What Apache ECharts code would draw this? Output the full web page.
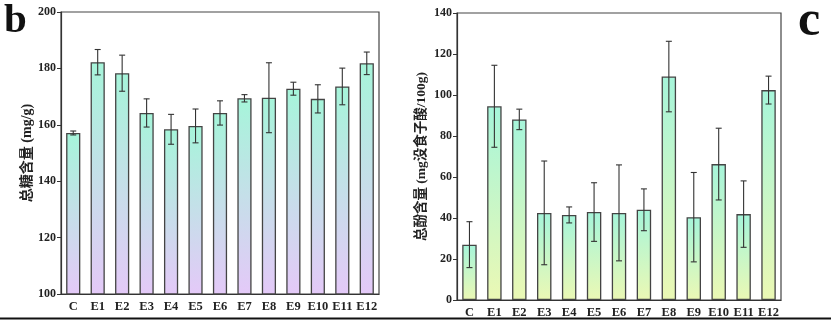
<!DOCTYPE html>
<html>
<head>
<meta charset="utf-8">
<script src="https://cdn.jsdelivr.net/npm/echarts@6/dist/echarts.min.js"></script>
<style>
  html, body { margin: 0; padding: 0; background: #fff; }
  #chart { width: 831px; height: 322px; }
</style>
</head>
<body>
<div id="chart"></div>
<script>
// Treatments shared by both panels
const categories = ['C', 'E1', 'E2', 'E3', 'E4', 'E5', 'E6', 'E7', 'E8', 'E9', 'E10', 'E11', 'E12'];

// Panel b: total sugar (mg/g), mean and standard deviation
const sugarMean = [157.1, 182.2, 178.3, 164.2, 158.4, 159.6, 164.2, 169.4, 169.6, 172.8, 169.2, 173.6, 181.8];
const sugarSd   = [0.7, 4.5, 6.4, 5.0, 5.3, 6.0, 4.3, 1.3, 12.4, 2.3, 5.0, 6.5, 4.0];
const sugarTicks = { min: 100, max: 200, interval: 20 };

// Panel c: total phenols (mg gallic acid / 100 g), mean and standard deviation
const phenolMean = [27.0, 94.5, 88.1, 42.5, 41.5, 42.9, 42.5, 44.0, 109.0, 40.4, 66.3, 41.9, 102.4];
const phenolSd   = [11.2, 20.0, 5.0, 25.3, 3.9, 14.3, 23.4, 10.2, 17.2, 21.8, 17.5, 16.2, 6.8];
const phenolTicks = { min: 0, max: 140, interval: 20 };

const serif = '"Liberation Serif", "Times New Roman", serif';
const cjk = '"Liberation Serif", "Noto Sans CJK SC", serif';

function barGradient(bottomColor) {
  return new echarts.graphic.LinearGradient(0, 0, 0, 1, [
    { offset: 0, color: '#a6f5da' },
    { offset: 1, color: bottomColor }
  ]);
}

function errorSeries(idx, mean, sd) {
  return {
    type: 'custom',
    xAxisIndex: idx,
    yAxisIndex: idx,
    z: 5,
    data: mean.map((m, i) => [i, m - sd[i], m + sd[i]]),
    renderItem: function (params, api) {
      const lo = api.coord([api.value(0), api.value(1)]);
      const hi = api.coord([api.value(0), api.value(2)]);
      const x = lo[0], cap = 3;
      const style = { stroke: '#333', lineWidth: 1.1 };
      return {
        type: 'group',
        children: [
          { type: 'line', shape: { x1: x, y1: hi[1], x2: x, y2: lo[1] }, style },
          { type: 'line', shape: { x1: x - cap, y1: hi[1], x2: x + cap, y2: hi[1] }, style },
          { type: 'line', shape: { x1: x - cap, y1: lo[1], x2: x + cap, y2: lo[1] }, style }
        ]
      };
    }
  };
}

function xAxisFor(idx) {
  return {
    type: 'category',
    gridIndex: idx,
    data: categories,
    axisLine: { lineStyle: { color: '#333', width: 1.2 } },
    axisTick: { show: true, inside: true, alignWithLabel: true, length: 4, lineStyle: { color: '#333' } },
    axisLabel: { color: '#222', fontFamily: serif, fontWeight: 'bold', fontSize: 12.5, margin: 6, interval: 0 }
  };
}

function yAxisFor(idx, ticks, name, nameSize, gap) {
  return {
    type: 'value',
    gridIndex: idx,
    min: ticks.min,
    max: ticks.max,
    interval: ticks.interval,
    name: name,
    nameLocation: 'middle',
    nameGap: gap,
    nameTextStyle: { color: '#222', fontFamily: cjk, fontWeight: 'bold', fontSize: nameSize },
    axisLine: { show: true, lineStyle: { color: '#333', width: 1.2 } },
    axisTick: { show: true, inside: false, length: 4, lineStyle: { color: '#333' } },
    splitLine: { show: false },
    axisLabel: { color: '#222', fontFamily: serif, fontWeight: 'bold', fontSize: 12, margin: 5 }
  };
}

const chart = echarts.init(document.getElementById('chart'), null, { renderer: 'canvas' });

chart.setOption({
  backgroundColor: '#ffffff',
  animation: false,
  grid: [
    { left: 61, right: 452, top: 12, bottom: 28, show: true, borderColor: '#444', borderWidth: 1.2, backgroundColor: 'transparent' },
    { left: 457, right: 50, top: 13, bottom: 22, show: true, borderColor: '#444', borderWidth: 1.2, backgroundColor: 'transparent' }
  ],
  xAxis: [xAxisFor(0), xAxisFor(1)],
  yAxis: [
    yAxisFor(0, sugarTicks, '总糖含量 (mg/g)', 14, 26),
    yAxisFor(1, phenolTicks, '总酚含量 (mg没食子酸/100g)', 13.5, 29)
  ],
  series: [
    {
      type: 'bar',
      xAxisIndex: 0,
      yAxisIndex: 0,
      data: sugarMean,
      barWidth: '58%',
      itemStyle: { color: barGradient('#e4c9f8'), borderColor: '#444', borderWidth: 1.3 }
    },
    errorSeries(0, sugarMean, sugarSd),
    {
      type: 'bar',
      xAxisIndex: 1,
      yAxisIndex: 1,
      data: phenolMean,
      barWidth: '58%',
      itemStyle: { color: barGradient('#ebf8b4'), borderColor: '#444', borderWidth: 1.3 }
    },
    errorSeries(1, phenolMean, phenolSd)
  ],
  graphic: [
    { type: 'text', left: 4, top: 1, style: { text: 'b', font: 'bold 41px ' + serif, fill: '#111' } },
    { type: 'text', left: 798, top: -3, style: { text: 'c', font: 'bold 50px ' + serif, fill: '#111' } },
    { type: 'line', shape: { x1: 0, y1: 318.5, x2: 831, y2: 318.5 }, style: { stroke: '#111', lineWidth: 2 } }
  ]
});
</script>
</body>
</html>
